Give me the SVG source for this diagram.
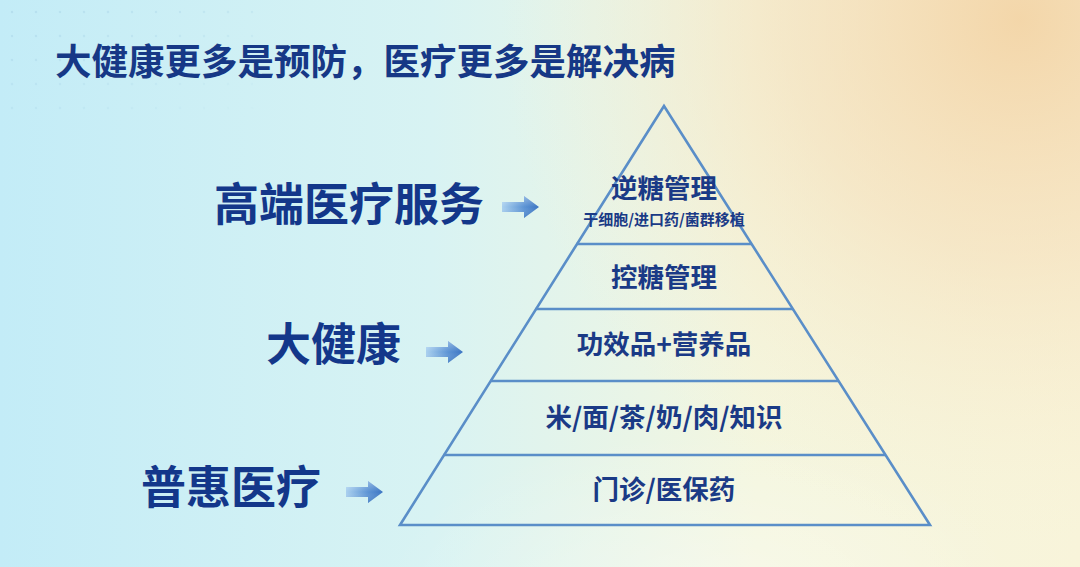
<svg xmlns="http://www.w3.org/2000/svg" width="1080" height="567" viewBox="0 0 1080 567">
  <defs>
    <linearGradient id="bgH" x1="0" y1="0" x2="1" y2="0">
      <stop offset="0" stop-color="#c3ecf7"/>
      <stop offset="0.4" stop-color="#d8f3f3"/>
      <stop offset="0.7" stop-color="#f4f6df"/>
      <stop offset="1" stop-color="#f8f4da"/>
    </linearGradient>
    <radialGradient id="peach" cx="1020" cy="20" r="520" gradientUnits="userSpaceOnUse">
      <stop offset="0" stop-color="#f3d3a4" stop-opacity="0.9"/>
      <stop offset="0.45" stop-color="#f5dcb6" stop-opacity="0.55"/>
      <stop offset="1" stop-color="#f8efd0" stop-opacity="0"/>
    </radialGradient>
    <radialGradient id="glow" cx="0.5" cy="0.5" r="0.5">
      <stop offset="0" stop-color="#ffffff" stop-opacity="0.35"/>
      <stop offset="1" stop-color="#ffffff" stop-opacity="0"/>
    </radialGradient>
    <linearGradient id="arrowGrad" x1="0" y1="0" x2="1" y2="0">
      <stop offset="0" stop-color="#a9d0ef"/>
      <stop offset="0.6" stop-color="#5b93d4"/>
      <stop offset="1" stop-color="#3a74c2"/>
    </linearGradient>
    <linearGradient id="arrowShade" x1="0" y1="0" x2="0" y2="1">
      <stop offset="0" stop-color="#ffffff" stop-opacity="0.35"/>
      <stop offset="0.5" stop-color="#ffffff" stop-opacity="0"/>
      <stop offset="1" stop-color="#1d4f9a" stop-opacity="0.25"/>
    </linearGradient>
    <path id="arrowShape" d="M0,-5 H22 V-11 L37,0 L22,11 V5 H0 Z"/>
    <pattern id="dots" x="0" y="0" width="24" height="24" patternUnits="userSpaceOnUse">
      <circle cx="12" cy="12" r="1.2" fill="#a8d4e6" opacity="0.6"/>
    </pattern>
    <linearGradient id="dotFade" x1="0" y1="0" x2="1" y2="1">
      <stop offset="0" stop-color="#fff" stop-opacity="1"/>
      <stop offset="1" stop-color="#fff" stop-opacity="0"/>
    </linearGradient>
    <mask id="dotMask">
      <rect x="0" y="0" width="260" height="120" fill="url(#dotFade)"/>
    </mask>
  </defs>
  <style>
    .title { font-family: "Noto Sans CJK SC", "Noto Sans", sans-serif; font-weight: 700; fill: #163886; }
    .big { font-family: "Noto Sans CJK SC", "Noto Sans", sans-serif; font-weight: 700; fill: #13378a; font-size: 45px; }
    .tier { font-family: "Noto Sans CJK SC", "Noto Sans", sans-serif; font-weight: 700; fill: #1a3a86; font-size: 26.5px; text-anchor: middle; }
    .sub { font-family: "Noto Sans CJK SC", "Noto Sans", sans-serif; font-weight: 700; fill: #1a3a86; font-size: 15px; text-anchor: middle; }
    .edge { stroke: #5a8ec8; stroke-width: 2.6; fill: none; stroke-linejoin: miter; }
  </style>

  <!-- background -->
  <rect x="0" y="0" width="1080" height="567" fill="url(#bgH)"/>
  <rect x="0" y="0" width="1080" height="567" fill="url(#peach)"/>
  <ellipse cx="700" cy="600" rx="320" ry="170" fill="url(#glow)"/>
  <rect x="0" y="0" width="260" height="120" fill="url(#dots)" mask="url(#dotMask)"/>

  <!-- title -->
  <text class="title" x="55" y="75" font-size="36.5">大健康更多是预防，医疗更多是解决病</text>

  <!-- pyramid -->
  <g id="pyramid">
    <polygon class="edge" points="664,106 930,525 400,525"/>
  </g>
  <g id="tier-top">
    <line class="edge" x1="576.5" y1="244" x2="751.5" y2="244"/>
    <text class="tier" x="664" y="198">逆糖管理</text>
    <text class="sub" x="664" y="225">干细胞/进口药/菌群移植</text>
  </g>
  <g id="tier-2">
    <line class="edge" x1="535.5" y1="309" x2="793" y2="309"/>
    <text class="tier" x="664" y="287">控糖管理</text>
  </g>
  <g id="tier-3">
    <line class="edge" x1="490" y1="381" x2="839" y2="381"/>
    <text class="tier" x="664" y="354">功效品+营养品</text>
  </g>
  <g id="tier-4">
    <line class="edge" x1="443.5" y1="455" x2="885.5" y2="455"/>
    <text class="tier" x="664" y="427">米/面/茶/奶/肉/知识</text>
  </g>
  <g id="tier-5">
    <text class="tier" x="664" y="499">门诊/医保药</text>
  </g>

  <!-- left labels -->
  <g id="label-high">
    <text class="big" x="214" y="221">高端医疗服务</text>
  </g>
  <g id="label-health">
    <text class="big" x="266" y="361">大健康</text>
  </g>
  <g id="label-basic">
    <text class="big" x="141" y="504">普惠医疗</text>
  </g>

  <!-- connectors -->
  <g id="connectors">
    <g transform="translate(502,207)">
      <use href="#arrowShape" fill="url(#arrowGrad)"/>
      <use href="#arrowShape" fill="url(#arrowShade)"/>
    </g>
    <g transform="translate(426,352)">
      <use href="#arrowShape" fill="url(#arrowGrad)"/>
      <use href="#arrowShape" fill="url(#arrowShade)"/>
    </g>
    <g transform="translate(346,492)">
      <use href="#arrowShape" fill="url(#arrowGrad)"/>
      <use href="#arrowShape" fill="url(#arrowShade)"/>
    </g>
  </g>
</svg>
